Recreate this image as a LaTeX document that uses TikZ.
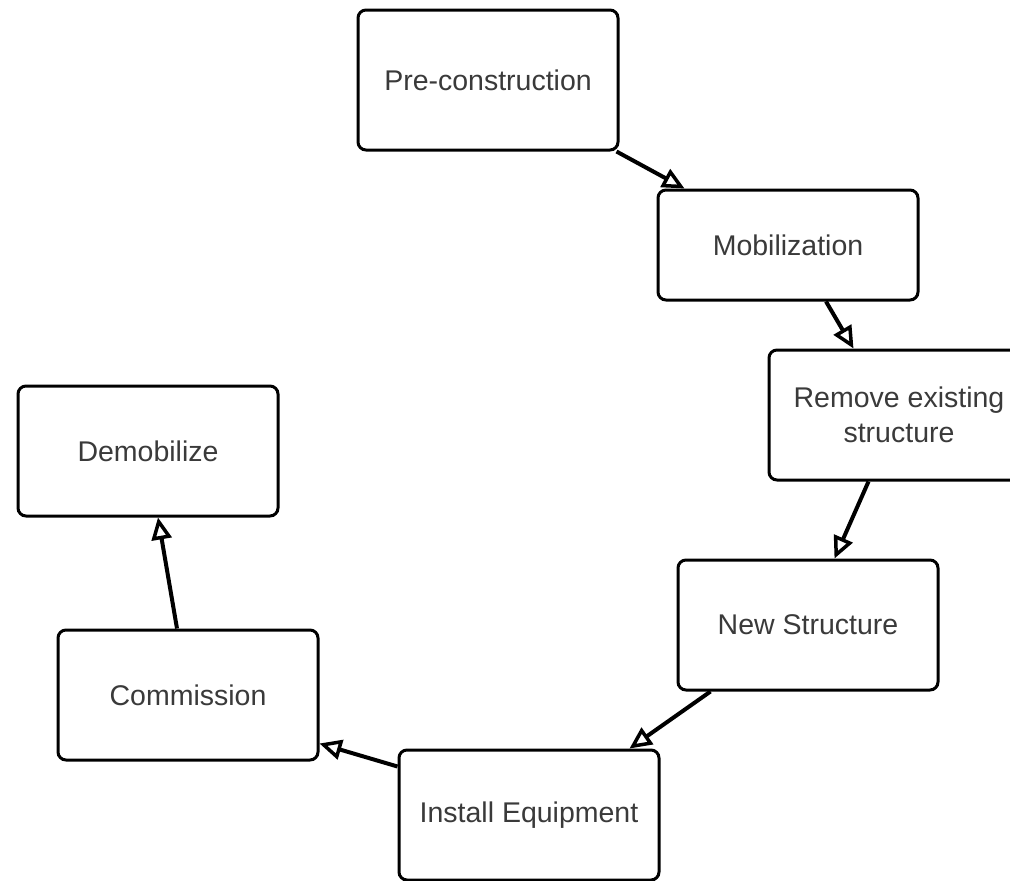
\documentclass[tikz,border=0pt]{standalone}
\usepackage{fontspec}
\setmainfont{Liberation Sans}
\usetikzlibrary{arrows.meta,calc}
\definecolor{labelgrey}{HTML}{3A3A3A}
\begin{document}
\begin{tikzpicture}[x=1pt,y=-1pt,
  stage/.style={draw=black, line width=3pt, rounded corners=8pt, fill=white,
    minimum width=260pt, minimum height=130pt, inner sep=0pt, align=center,
    text=labelgrey, font=\fontsize{28.5}{35}\selectfont},
  flow/.style={line width=4pt, -{Triangle[open, length=22pt, width=20pt, line width=3.5pt]}}]
  \useasboundingbox (0,0) rectangle (1010,881);

  \node[stage, minimum height=140pt] (pre) at (488,80) {Pre-construction};
  \node[stage, minimum height=110pt] (mob) at (788,245) {Mobilization};
  \node[stage] (rem) at (899,415) {Remove existing\\structure};
  \node[stage] (new) at (808,625) {New Structure};
  \node[stage] (inst) at (529,815) {Install Equipment};
  \node[stage] (com) at (188,695) {Commission};
  \node[stage] (demo) at (148,451) {Demobilize};

  \draw[flow] ([xshift=-3pt]pre.south east) -- ([xshift=28pt]mob.north west);
  \draw[flow] ([xshift=38pt]mob.south) -- ([xshift=86pt]rem.north west);
  \draw[flow] ([xshift=101pt]rem.south west) -- ([xshift=158pt]new.north west);
  \draw[flow] ([xshift=34pt]new.south west) -- ([xshift=-31pt]inst.north east);
  \draw[flow] ([yshift=-18pt]inst.north west) -- ([yshift=18pt]com.south east);
  \draw[flow] ([xshift=-11pt]com.north) -- ([xshift=10pt]demo.south);
\end{tikzpicture}
\end{document}
